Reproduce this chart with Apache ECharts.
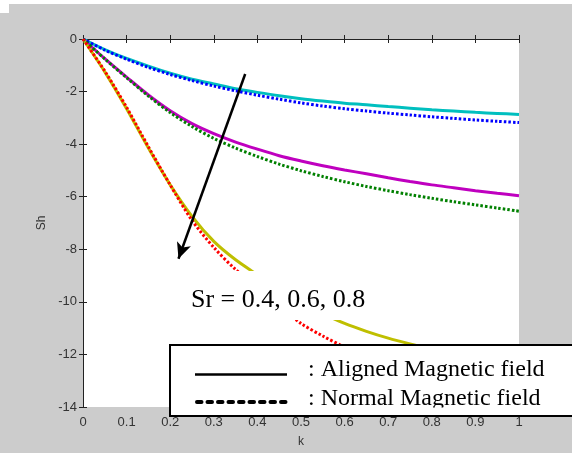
<!DOCTYPE html>
<html>
<head>
<meta charset="utf-8">
<script src="https://cdn.jsdelivr.net/npm/echarts@6/dist/echarts.min.js"></script>
<style>html,body{margin:0;padding:0;background:#fff}#c{width:572px;height:453px}</style>
</head>
<body>
<div id="c"></div>
<script>
// ---- data ----
const kValues = [0,0.05,0.1,0.15,0.2,0.25,0.3,0.35,0.4,0.45,0.5,0.55,0.6,0.65,0.7,0.75,0.8,0.85,0.9,0.95,1.0];
const shAlignedSr04 = [0,-0.40,-0.74,-1.03,-1.30,-1.53,-1.71,-1.89,-2.03,-2.16,-2.27,-2.36,-2.44,-2.50,-2.57,-2.63,-2.69,-2.74,-2.79,-2.83,-2.87];
const shNormalSr04  = [0,-0.42,-0.77,-1.08,-1.35,-1.58,-1.79,-1.97,-2.14,-2.29,-2.43,-2.55,-2.65,-2.74,-2.82,-2.89,-2.96,-3.02,-3.08,-3.13,-3.18];
const shAlignedSr06 = [0,-0.75,-1.45,-2.13,-2.73,-3.22,-3.60,-3.92,-4.19,-4.44,-4.64,-4.82,-4.98,-5.13,-5.28,-5.42,-5.55,-5.66,-5.77,-5.87,-5.96];
const shNormalSr06  = [0,-0.76,-1.47,-2.17,-2.80,-3.33,-3.78,-4.15,-4.47,-4.76,-5.01,-5.23,-5.43,-5.61,-5.77,-5.92,-6.06,-6.19,-6.31,-6.43,-6.55];
const shAlignedSr08 = [0,-1.25,-2.65,-4.15,-5.55,-6.75,-7.70,-8.40,-8.97,-9.55,-10.05,-10.45,-10.82,-11.12,-11.38,-11.60,-11.80,-11.97,-12.12,-12.26,-12.38];
const shNormalSr08  = [0,-1.22,-2.60,-4.10,-5.55,-6.90,-7.93,-8.77,-9.45,-10.15,-10.82,-11.30,-11.72,-12.10,-12.45,-12.75,-13.02,-13.27,-13.50,-13.70,-13.88];
const xTickMin = 0, xTickMax = 1, xTickStep = 0.1;
const yTickMin = -14, yTickMax = 0, yTickStep = 2;
const arrowStart = [0.372, -1.33];
const arrowEnd = [0.219, -8.36];
const annotationText = 'Sr = 0.4, 0.6, 0.8';
const legendTexts = [': Aligned Magnetic field', ': Normal Magnetic field'];

const pairs = arr => kValues.map((k, i) => [k, arr[i]]);
const SANS = '"Liberation Sans", Arial, sans-serif';
const SERIF = '"Liberation Serif", "Times New Roman", serif';
const dotted = [2.5, 2];

function solid(name, arr, color) {
  return { name, type: 'line', data: pairs(arr), showSymbol: false, smooth: 0.3,
    lineStyle: { color, width: 3 }, z: 2, silent: true };
}
function dots(name, arr, color) {
  return { name, type: 'line', data: pairs(arr), showSymbol: false, smooth: 0.3,
    lineStyle: { color, width: 3, type: dotted }, z: 3, silent: true };
}

const axisCommon = {
  axisLine: { show: true, lineStyle: { color: '#222', width: 1 } },
  axisTick: { show: true, inside: true, length: 4, lineStyle: { color: '#222' } },
  splitLine: { show: false }
};

const s0 = solid('Aligned Sr=0.4', shAlignedSr04, '#00bfbf');
s0.markLine = {
  silent: true, animation: false,
  symbol: ['none', 'arrow'], symbolSize: [11, 16],
  lineStyle: { color: '#000', width: 2.5, type: 'solid' },
  label: { show: false },
  data: [[{ coord: arrowStart }, { coord: arrowEnd }]]
};

const option = {
  animation: false,
  backgroundColor: '#cccccc',
  grid: { left: 83, right: 53, top: 39, bottom: 44, show: true, backgroundColor: '#fff', borderWidth: 0 },
  xAxis: [
    Object.assign({ type: 'value', position: 'bottom', min: xTickMin, max: xTickMax, interval: xTickStep,
      name: 'k', nameLocation: 'middle', nameGap: 29,
      nameTextStyle: { fontFamily: SANS, fontSize: 12, color: '#333' },
      axisLabel: { fontFamily: SANS, fontSize: 13, color: '#333', margin: 9 } }, axisCommon),
    Object.assign({ type: 'value', position: 'top', min: xTickMin, max: xTickMax, interval: xTickStep,
      axisLabel: { show: false } }, axisCommon)
  ],
  yAxis: [
    Object.assign({ type: 'value', position: 'left', min: yTickMin, max: yTickMax, interval: yTickStep,
      name: 'Sh', nameLocation: 'middle', nameGap: 33,
      nameTextStyle: { fontFamily: SANS, fontSize: 12, color: '#333' },
      axisLabel: { fontFamily: SANS, fontSize: 13, color: '#333', margin: 6, padding: [0, 0, 5, 0] } }, axisCommon),
    Object.assign({ type: 'value', position: 'right', min: yTickMin, max: yTickMax, interval: yTickStep,
      axisLabel: { show: false } }, axisCommon)
  ],
  series: [
    s0,
    solid('Aligned Sr=0.6', shAlignedSr06, '#bf00bf'),
    solid('Aligned Sr=0.8', shAlignedSr08, '#bfbf00'),
    dots('Normal Sr=0.4', shNormalSr04, '#0000ff'),
    dots('Normal Sr=0.6', shNormalSr06, '#008000'),
    dots('Normal Sr=0.8', shNormalSr08, '#ff0000')
  ],
  graphic: [
    { type: 'rect', z: 100, silent: true, shape: { x: 0, y: 0, width: 572, height: 4 }, style: { fill: '#fff' } },
    { type: 'rect', z: 100, silent: true, shape: { x: 0, y: 0, width: 9, height: 13 }, style: { fill: '#fff' } },
    // annotation text box
    { type: 'rect', z: 100, silent: true, shape: { x: 186, y: 271, width: 196, height: 49 }, style: { fill: '#fff' } },
    { type: 'text', z: 101, silent: true, x: 191, y: 300,
      style: { text: annotationText, font: '26px ' + SERIF, fill: '#000', textVerticalAlign: 'middle', verticalAlign: 'middle' } },
    // legend box
    { type: 'rect', z: 100, silent: true, shape: { x: 170, y: 345, width: 420, height: 71 },
      style: { fill: '#fff', stroke: '#000', lineWidth: 2 } },
    { type: 'line', z: 101, silent: true, shape: { x1: 195, y1: 374.5, x2: 287, y2: 374.5 },
      style: { stroke: '#000', lineWidth: 2.5 } },
    { type: 'line', z: 101, silent: true, shape: { x1: 197, y1: 402, x2: 288, y2: 402 },
      style: { stroke: '#000', lineWidth: 4, lineDash: [4.5, 6], lineCap: 'round' } },
    { type: 'text', z: 101, silent: true, x: 308, y: 370,
      style: { text: legendTexts[0], font: '24px ' + SERIF, fill: '#000', textVerticalAlign: 'middle', verticalAlign: 'middle' } },
    { type: 'text', z: 101, silent: true, x: 308, y: 399,
      style: { text: legendTexts[1], font: '24px ' + SERIF, fill: '#000', textVerticalAlign: 'middle', verticalAlign: 'middle' } },
    { type: 'rect', z: 102, silent: true, shape: { x: 300, y: 407.5, width: 272, height: 7.5 }, style: { fill: '#fff' } }
  ]
};

const chart = echarts.init(document.getElementById('c'), null, { renderer: 'canvas' });
chart.setOption(option);
</script>
</body>
</html>
